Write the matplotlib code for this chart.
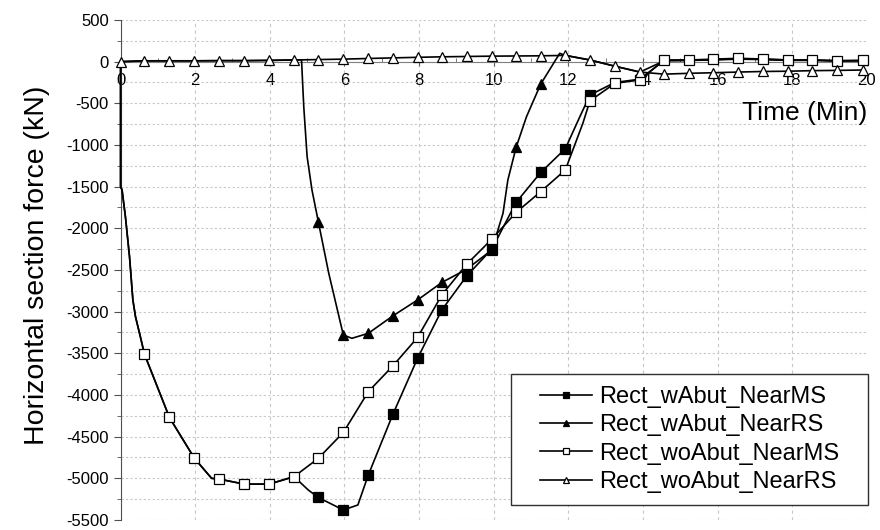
import matplotlib
matplotlib.use("Agg")
import matplotlib.pyplot as plt
from matplotlib.patches import Rectangle
from matplotlib.ticker import MultipleLocator

plt.rcParams['font.family'] = ['Liberation Sans', 'DejaVu Sans']
plt.rcParams['axes.unicode_minus'] = False

# time (min) / horizontal section force (kN)
t_wo_ms = [0, 0, 0.04, 0.13, 0.24, 0.33, 0.40, 0.53, 0.64, 1.31, 1.98, 2.44, 2.65, 3.32,
           3.98, 4.65, 5.30, 5.97, 6.64, 7.30, 7.96, 8.61, 9.28, 9.95, 10.60, 11.26,
           11.92, 12.39, 12.58, 13.25, 13.92, 14.57, 15.23, 15.89, 16.55, 17.21, 17.88,
           18.54, 19.21, 19.90]
f_wo_ms = [0, -1500, -1540, -1860, -2340, -2860, -3060, -3300, -3510, -4270, -4760, -5000,
           -5010, -5070, -5070, -4980, -4760, -4450, -3960, -3650, -3310, -2800, -2430,
           -2130, -1810, -1560, -1300, -740, -470, -260, -220, 20, 20, 30, 40, 32, 20,
           20, 12, 16]

t_w_ms = [0, 0, 0.04, 0.13, 0.24, 0.33, 0.40, 0.53, 0.64, 1.31, 1.98, 2.44, 2.65, 3.32,
          3.98, 4.65, 5.03, 5.30, 5.97, 6.36, 6.64, 7.30, 7.96, 8.61, 9.28, 9.95, 10.60,
          11.26, 11.92, 12.31, 12.58, 13.25, 13.92, 14.57, 15.23, 15.89, 16.55, 17.21,
          17.88, 18.54, 19.21, 19.90]
f_w_ms = [0, -1500, -1540, -1860, -2340, -2860, -3060, -3300, -3510, -4270, -4760, -5000,
          -5010, -5070, -5070, -4980, -5140, -5230, -5380, -5320, -4960, -4230, -3560,
          -2980, -2570, -2250, -1690, -1330, -1045, -660, -400, -250, -210, 15, 15, 25,
          35, 30, 20, 18, 10, 12]

t_w_rs = [0, 0.64, 1.31, 1.98, 2.65, 3.32, 3.98, 4.65, 4.85, 4.91, 5.00, 5.13, 5.30, 5.58,
          5.97, 6.20, 6.64, 7.30, 7.96, 8.61, 9.28, 9.95, 10.25, 10.38, 10.60, 10.88,
          11.26, 11.77, 11.92, 12.58, 13.25, 13.92, 14.57, 15.23, 15.89, 16.55, 17.21,
          17.88, 18.54, 19.21, 19.90]
f_w_rs = [0, 10, 10, 10, 12, 12, 15, 20, 22, -540, -1140, -1540, -1920, -2540, -3280, -3320,
          -3260, -3050, -2860, -2650, -2490, -2260, -1820, -1420, -1030, -660, -270, 100,
          75, 20, -55, -125, 10, 15, 20, 30, 25, 15, 15, 8, 10]

t_wo_rs = [0, 0.64, 1.31, 1.98, 2.65, 3.32, 3.98, 4.65, 5.30, 5.97, 6.64, 7.30, 7.96, 8.61,
           9.28, 9.95, 10.60, 11.26, 11.92, 12.58, 13.25, 13.92, 14.57, 15.23, 15.89, 16.55,
           17.21, 17.88, 18.54, 19.21, 19.90]
f_wo_rs = [0, 10, 10, 10, 12, 12, 15, 20, 25, 30, 38, 45, 52, 58, 62, 66, 68, 70, 75, 20,
           -55, -125, -150, -140, -133, -125, -118, -115, -108, -105, -100]

# times where a symbol is visible
marks_w_ms = [5.30, 5.97, 6.64, 7.30, 7.96, 8.61, 9.28, 9.95, 10.60, 11.26, 11.92, 12.58]
marks_w_rs = [5.30, 5.97, 6.64, 7.30, 7.96, 8.61, 9.28, 9.95, 10.60, 11.26]
marks_wo_ms = [0.64, 1.31, 1.98, 2.65, 3.32, 3.98, 4.65, 5.30, 5.97, 6.64, 7.30, 7.96, 8.61,
               9.28, 9.95, 10.60, 11.26, 11.92, 12.58, 13.25, 13.92, 14.57, 15.23, 15.89,
               16.55, 17.21, 17.88, 18.54, 19.21, 19.90]
marks_wo_rs = [0] + marks_wo_ms

labels = ['Rect_wAbut_NearMS', 'Rect_wAbut_NearRS', 'Rect_woAbut_NearMS', 'Rect_woAbut_NearRS']


def idx(ts, marks):
    return [i for i, t in enumerate(ts) if t in marks]


fig = plt.figure(figsize=(8.8, 5.3), dpi=100)
ax = fig.add_axes([0.137, 0.0189, 0.848, 0.9434])

kw = dict(color='black', lw=1.2, ms=6.5, mec='black', mew=0.9, zorder=3, clip_on=False)
ax.plot(t_w_ms, f_w_ms, marker='s', mfc='black', markevery=idx(t_w_ms, marks_w_ms),
        label=labels[0], **kw)
ax.plot(t_w_rs, f_w_rs, marker='^', mfc='black', markevery=idx(t_w_rs, marks_w_rs),
        label=labels[1], **kw)
ax.plot(t_wo_ms, f_wo_ms, marker='s', mfc='white', markevery=idx(t_wo_ms, marks_wo_ms),
        label=labels[2], **kw)
ax.plot(t_wo_rs, f_wo_rs, marker='^', mfc='white', markevery=idx(t_wo_rs, marks_wo_rs),
        label=labels[3], **kw)

ax.set_xlim(0, 20)
ax.set_ylim(-5500, 500)
ax.xaxis.set_major_locator(MultipleLocator(2))
ax.xaxis.set_minor_locator(MultipleLocator(1))
ax.yaxis.set_major_locator(MultipleLocator(500))
ax.yaxis.set_minor_locator(MultipleLocator(250))

ax.spines['top'].set_visible(False)
ax.spines['right'].set_visible(False)
ax.spines['bottom'].set_position(('data', 0))
ax.spines['bottom'].set_color('#808080')
ax.spines['left'].set_color('#505050')
ax.set_axisbelow(True)

ax.tick_params(axis='x', which='major', direction='inout', length=6, labelsize=12,
               color='#606060', pad=5)
ax.tick_params(axis='x', which='minor', direction='in', length=3, color='#606060')
ax.tick_params(axis='y', which='major', direction='out', length=5, labelsize=12,
               color='#505050')
ax.tick_params(axis='y', which='minor', direction='out', length=3, color='#505050')

ax.grid(True, which='major', axis='x', color='#c8c8c8', lw=0.8, ls=(0, (3, 3)))
ax.grid(True, which='both', axis='y', color='#c8c8c8', lw=0.8, ls=(0, (2, 2)))

ax.set_ylabel('Horizontal section force (kN)', fontsize=20.5)
ax.yaxis.set_label_coords(-0.095, 0.51)
ax.text(1.0, 0.814, 'Time (Min)', transform=ax.transAxes, fontsize=19,
        ha='right', va='center')

# legend box (wider side padding than matplotlib's uniform borderpad)
ax.add_patch(Rectangle((0.5232, 0.03), 0.4785, 0.262, transform=ax.transAxes,
                       facecolor='white', edgecolor='#303030', lw=1.0, zorder=4,
                       clip_on=False))
leg = ax.legend(loc='center', bbox_to_anchor=(0.762, 0.161), fontsize=17,
                frameon=False, handlelength=2.2, labelspacing=0.27, borderpad=0,
                markerscale=0.6, handletextpad=0.3, borderaxespad=0)
leg.set_zorder(5)

fig.savefig('out.png', dpi=100)
